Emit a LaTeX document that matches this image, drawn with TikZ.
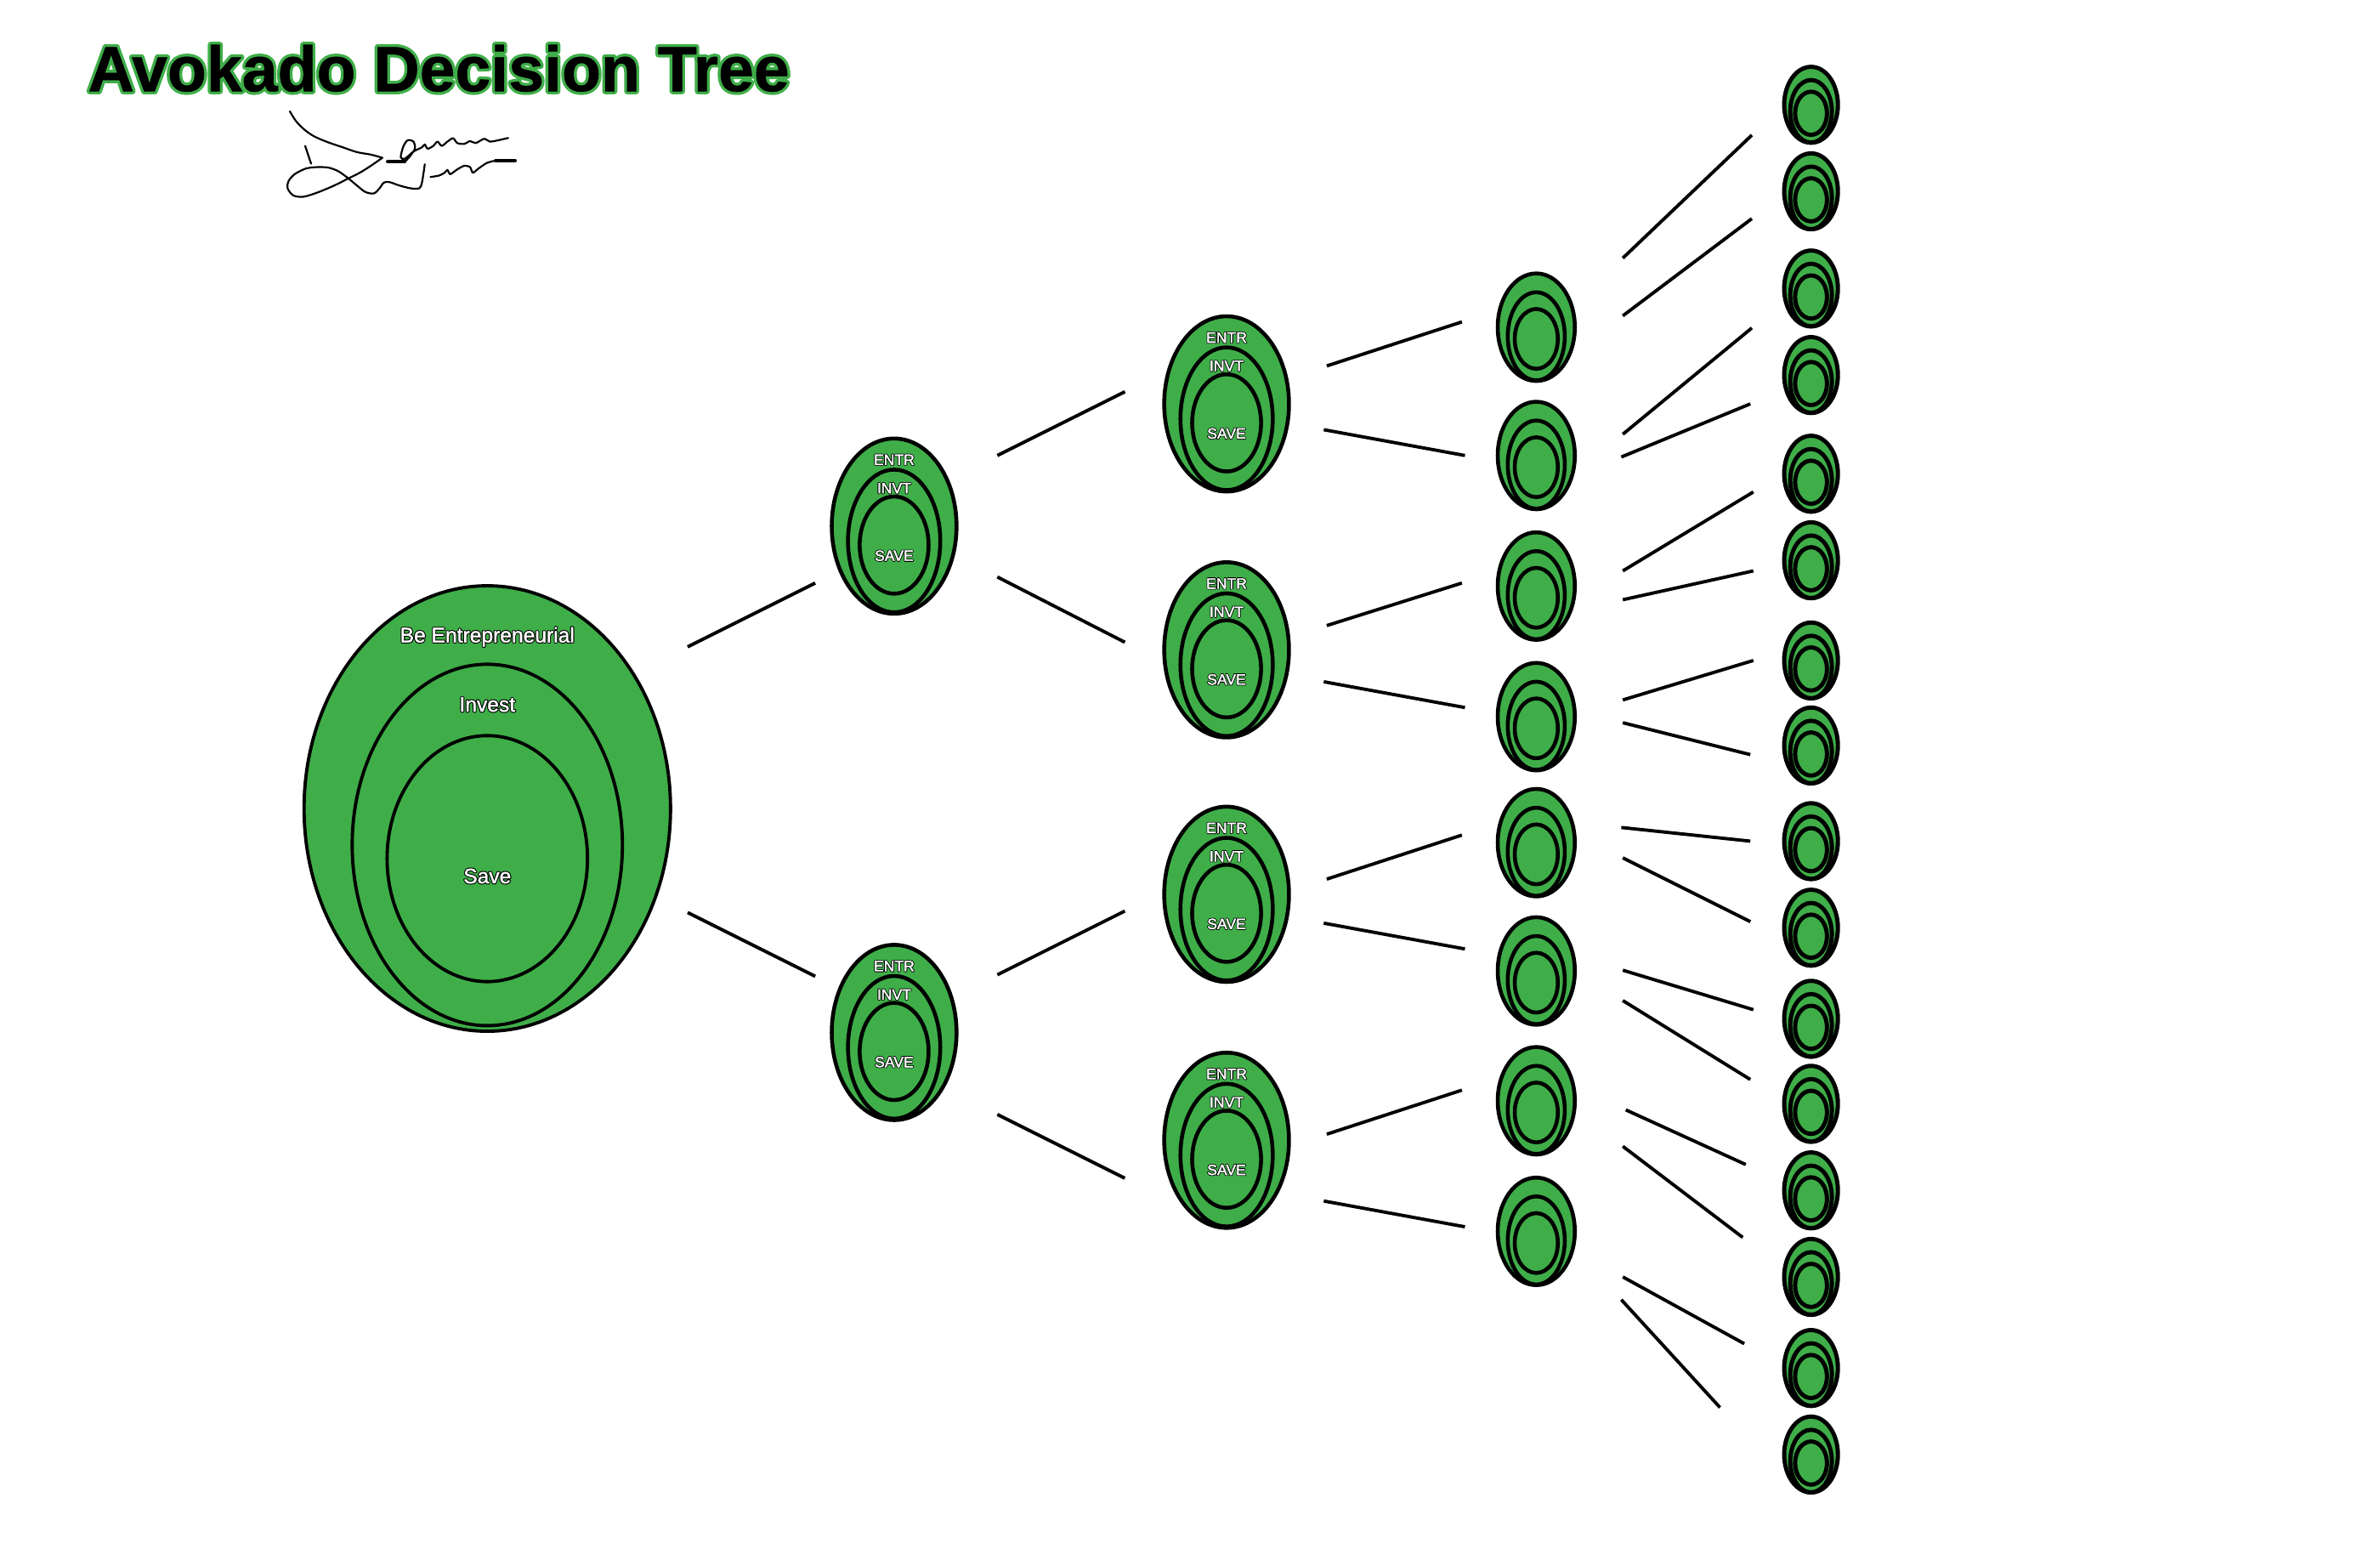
\documentclass[tikz,border=0pt]{standalone}
\usepackage{fontspec}
\setmainfont{Liberation Sans}
\usetikzlibrary{shapes.geometric}
\definecolor{avgreen}{RGB}{63,174,73}
% white letters on a black halo
\newcommand{\wstroke}[2]{\rlap{\special{pdf:code q 0 0 0 RG 0 0 0 rg 1 j 1 J 2 Tr #1 w}#2\special{pdf:code 0 Tr Q}}\special{pdf:code q 1 1 1 RG 1 1 1 rg 1 j 2 Tr 0.1 w}#2\special{pdf:code 0 Tr Q}}
\newcommand{\bigtext}[1]{\wstroke{0.75}{#1}}
\newcommand{\smalltext}[1]{\wstroke{0.6}{#1}}
\newcommand{\ttlhalo}[1]{\special{pdf:code q 0.247 0.682 0.286 RG 0.247 0.682 0.286 rg 1 j 1 J 2 Tr 2.1 w}#1\special{pdf:code 0 Tr Q}}
\newcommand{\ttlcore}[1]{\special{pdf:code q 0 0 0 RG 0 0 0 rg 1 j 1 J 2 Tr 0.15 w}#1\special{pdf:code 0 Tr Q}}
\def\un{0.01786}
\tikzset{
  x=\un cm,y=-\un cm,
  shell/.style={ellipse,draw=black,fill=avgreen,inner sep=0pt,outer sep=0pt},
  link/.style={draw=black,line width=1.1pt},
  biglabel/.style={inner sep=0pt,text=white,font=\fontsize{7}{8}\selectfont},
  smalllabel/.style={inner sep=0pt,text=white,font=\fontsize{5}{6}\selectfont},
  sig/.style={draw=black,line width=0.62pt,line cap=round,line join=round},
}
% name, x, y, rx, ry, mid dy, mid rx, mid ry, inner dy, inner rx, inner ry, line width
\newcommand{\avo}[8]{%
  \def\an{#1}\def\ax{#2}\def\ay{#3}\def\arx{#4}\def\ary{#5}\def\bdy{#6}\def\brx{#7}\def\bry{#8}\avoB}
\newcommand{\avoB}[4]{%
  \node[shell,line width=#4,minimum width={2*\arx*\un cm},minimum height={2*\ary*\un cm}] (\an) at (\ax,\ay) {};
  \node[shell,line width=#4,minimum width={2*\brx*\un cm},minimum height={2*\bry*\un cm}] (\an-mid) at (\ax,{\ay+\bdy}) {};
  \node[shell,line width=#4,minimum width={2*#2*\un cm},minimum height={2*#3*\un cm}] (\an-core) at (\ax,{\ay+#1}) {};
}
\newcommand{\medavo}[3]{%
  \avo{#1}{#2}{#3}{41.1}{57.7}{9.8}{30.4}{47}{12.5}{22.7}{32}{1.3pt}
  \node[smalllabel] (#1-e) at (#2,{#3-43.7}) {\smalltext{ENTR}};
  \node[smalllabel] (#1-i) at (#2,{#3-25}) {\smalltext{INVT}};
  \node[smalllabel] (#1-s) at (#2,{#3+19.5}) {\smalltext{SAVE}};
}
\begin{document}
\begin{tikzpicture}
\useasboundingbox (0,0) rectangle (1567.8,1027);
% title
\node[inner sep=0pt,font=\fontsize{21.4}{24}\bfseries\selectfont] (title) at (289,45) {\rlap{\ttlhalo{Avokado Decision Tree}}\ttlcore{Avokado Decision Tree}};
% signature
\begin{scope}[shift={(184.8,67.2)},x=0.003333cm,y=-0.003333cm]
  \draw[sig] plot[smooth,tension=0.5] coordinates {(33,33) (55,68) (85,98) (120,122) (170,143) (220,160) (270,177) (320,186) (360,197)};
  \draw[sig] plot[smooth,tension=0.5] coordinates {(360,197) (320,225) (280,250) (240,270) (190,295) (130,320) (80,335) (45,330) (25,305) (28,280) (50,255) (90,235) (130,230) (170,232) (205,245) (240,270) (270,295) (300,318) (330,323) (350,305) (365,285) (385,283) (420,295) (460,305) (490,305) (500,285) (510,220)};
  \draw[sig] plot[smooth,tension=0.4] coordinates {(530,265) (560,260) (580,250) (590,240) (600,255) (625,238) (650,225) (670,230) (680,250) (700,235) (730,215) (760,207)};
  \draw[sig,line width=1pt] (760,207) -- (830,207);
  \draw[sig] (87,155) -- (108,218);
  \draw[sig,line width=1pt] (378,210) -- (440,210);
  \draw[sig] plot[smooth,tension=0.5] coordinates {(440,210) (455,195) (475,165) (470,140) (450,135) (435,155) (425,195) (440,200) (470,175) (500,160) (510,150) (520,165) (540,155) (555,140) (570,155) (590,140) (610,128) (625,145) (650,148) (670,138) (690,145) (720,130) (740,140) (770,135) (805,127)};
\end{scope}
% root
\avo{root}{321}{532.5}{120.7}{146.7}{24}{89}{119}{33}{66}{81}{1.1pt}
\node[biglabel] (rootE) at (321,419.5) {\bigtext{Be Entrepreneurial}};
\node[biglabel] (rootI) at (321,464) {\bigtext{Invest}};
\node[biglabel] (rootS) at (321,577) {\bigtext{Save}};
% level 1 and 2
\medavo{a1}{589}{346.5}
\medavo{a2}{589}{680}
\medavo{b1}{808}{266}
\medavo{b2}{808}{428}
\medavo{b3}{808}{589}
\medavo{b4}{808}{751}
% level 3
\foreach \n/\y in {1/215.5,2/300,3/386,4/472,5/555,6/639.5,7/725,8/811}{
  \avo{c\n}{1012}{\y}{25.4}{35.4}{6}{18.8}{29}{7.7}{14.2}{19.7}{1.3pt}
}
% level 4
\foreach \n/\y in {1/69,2/126,3/190,4/247,5/312,6/369,7/435,8/491,9/554,10/611,11/671,12/727,13/784,14/841,15/901,16/958}{
  \avo{d\n}{1193}{\y}{17.7}{25}{4.3}{13.7}{20.6}{5.6}{10.5}{14.2}{1.4pt}
}
% connectors
\foreach \i/\xa/\ya/\xb/\yb in {
 1/453/426/537/384, 2/453/601/537/643,
 3/657/300/741/258, 4/657/380/741/423, 5/657/642/741/600, 6/657/734/741/776,
 7/874/241/963/212, 8/872/283/965/300, 9/874/412/963/384, 10/872/449/965/466,
 11/874/579/963/550, 12/872/608/965/625, 13/874/747/963/718, 14/872/791/965/808,
 15/1069/170/1154/89, 16/1069/208/1154/144, 17/1069/286/1154/216, 18/1068/301/1153/266,
 19/1069/376/1155/324, 20/1069/395/1155/376, 21/1069/461/1155/435, 22/1069/476/1153/497,
 23/1068/545/1153/554, 24/1069/565/1153/607, 25/1069/639/1155/665, 26/1069/659/1153/711,
 27/1071/731/1150/767, 28/1069/755/1148/815, 29/1069/841/1149/885, 30/1068/856/1133/927}{
  \coordinate (s\i) at (\xa,\ya);
  \coordinate (t\i) at (\xb,\yb);
  \draw[link] (s\i) -- (t\i);
}
\end{tikzpicture}
\end{document}
